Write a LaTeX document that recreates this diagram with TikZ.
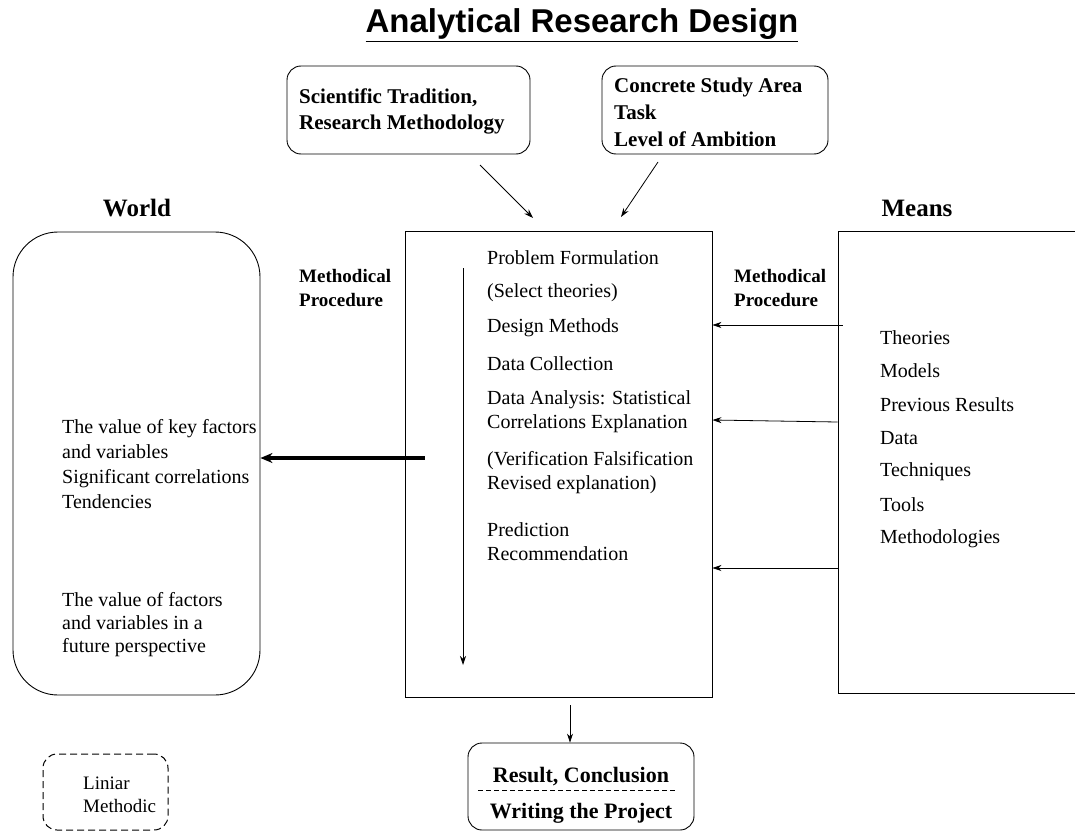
\documentclass[tikz,border=0pt]{standalone}
\usepackage{fontspec}
\setmainfont{Liberation Serif}
\newfontfamily\headfont{Liberation Sans}
\usetikzlibrary{arrows.meta,positioning,calc}
\tikzstyle{rbox}=[draw,rounded corners=14pt,line width=0.9pt,inner sep=0pt]
\tikzstyle{sbox}=[draw,line width=0.9pt,inner sep=0pt]
\tikzstyle{txt}=[anchor=west,inner sep=0pt,align=left,font=\fontsize{20}{24}\selectfont]
\tikzstyle{btxt}=[anchor=west,inner sep=0pt,align=left,font=\fontsize{21}{26}\selectfont\bfseries]
\tikzstyle{arr}=[-{Stealth[length=9pt,width=6pt]},line width=0.8pt]

\begin{document}
\begin{tikzpicture}[x=1pt,y=-1pt]
  \useasboundingbox (0,0) rectangle (1075,832);

  % title
  \node (title) at (582,25) {\headfont\bfseries\fontsize{33}{36}\selectfont\underline{Analytical Research Design}};

  % inputs on top
  \node [rbox,minimum width=243pt,minimum height=88pt] (trad) at (408.5,110) {};
  \node [btxt] (tradtxt) at (299,111) {Scientific Tradition,\\Research Methodology};
  \node [rbox,minimum width=226pt,minimum height=88pt] (area) at (715,110) {};
  \node [btxt,font=\fontsize{21}{27}\selectfont\bfseries] (areatxt) at (614,112) {Concrete Study Area\\Task\\Level of Ambition};

  % the three columns
  \node [btxt,anchor=center,font=\fontsize{25}{28}\selectfont\bfseries] (worldlbl) at (137,208) {World};
  \node [btxt,anchor=center,font=\fontsize{25}{28}\selectfont\bfseries] (meanslbl) at (917,208) {Means};
  \node [rbox,rounded corners=45pt,minimum width=247pt,minimum height=463pt] (world) at (136.5,463.5) {};
  \node [sbox,minimum width=307pt,minimum height=466pt] (main) at (558.5,464) {};
  \node [sbox,minimum width=262pt,minimum height=462pt] (means) at (969,462) {};

  \node [btxt,font=\fontsize{19}{24}\selectfont\bfseries] (procl) at (299,288) {Methodical\\Procedure};
  \node [btxt,font=\fontsize{19}{24}\selectfont\bfseries] (procr) at (734,288) {Methodical\\Procedure};

  % steps of the procedure
  \node [txt] (s1) at (487,258) {Problem Formulation};
  \node [txt] (s2) at (487,293) {(Select theories)};
  \node [txt] (s3) at (487,328) {Design Methods};
  \node [txt] (s4) at (487,364) {Data Collection};
  \node [txt] (s5) at (487,412) {Data Analysis: Statistical\\Correlations Explanation};
  \node [txt] (s6) at (487,473) {(Verification Falsification\\Revised explanation)};
  \node [txt] (s7) at (487,542) {Prediction\\Recommendation};
  \coordinate (flowtop) at (463,268);
  \coordinate (flowend) at (463,665);
  \draw [arr] (flowtop) -- (flowend);

  % world
  \node [txt,font=\fontsize{20}{25}\selectfont] (res1) at (62,464.5) {The value of key factors\\and variables\\Significant correlations\\Tendencies};
  \node [txt,font=\fontsize{20}{23}\selectfont] (res2) at (62,625) {The value of factors\\and variables in a\\future perspective};

  % means
  \foreach \t [count=\i] in {Theories,Models,Previous Results,Data,Techniques,Tools,Methodologies}
    \node [txt] (m\i) at (880,304+33.5*\i) {\t};

  % connectors
  \coordinate (tradend) at (480,165);
  \coordinate (tradhead) at (533,218);
  \coordinate (areaend) at (658,162);
  \coordinate (areahead) at (621,217);
  \draw [arr] (tradend) -- (tradhead);
  \draw [arr] (areaend) -- (areahead);

  \draw [arr] ([xshift=5pt]means.west |- 0,325) -- (main.east |- 0,325);
  \draw [arr] (means.west |- 0,422) -- (main.east |- 0,420);
  \draw [arr] (means.west |- 0,568) -- (main.east |- 0,568);

  \draw [-{Stealth[length=12pt,width=10pt]},line width=3.5pt] ([xshift=20pt]main.west |- 0,458) -- (world.east |- 0,458);

  % result
  \node [rbox,minimum width=226pt,minimum height=87pt] (result) at (581,786.5) {};
  \draw [arr] (main.south -| 570,0) ++(0,8) -- (result.north -| 570,0);
  \node [btxt,anchor=center,font=\fontsize{22}{26}\selectfont\bfseries] (restxt) at (581,777) {Result, Conclusion};
  \node [btxt,anchor=center,font=\fontsize{22}{26}\selectfont\bfseries] (writetxt) at (581,813) {Writing the Project};
  \draw [dash pattern=on 5pt off 3pt,line width=1pt] (478,790) -- (675,790);

  % legend
  \node [rbox,dash pattern=on 7pt off 4pt,line width=1pt,minimum width=125pt,minimum height=76pt] (legend) at (105.5,792) {};
  \node [txt,font=\fontsize{19}{23}\selectfont] (legtxt) at (83,794.5) {Liniar\\Methodic};
\end{tikzpicture}
\end{document}
